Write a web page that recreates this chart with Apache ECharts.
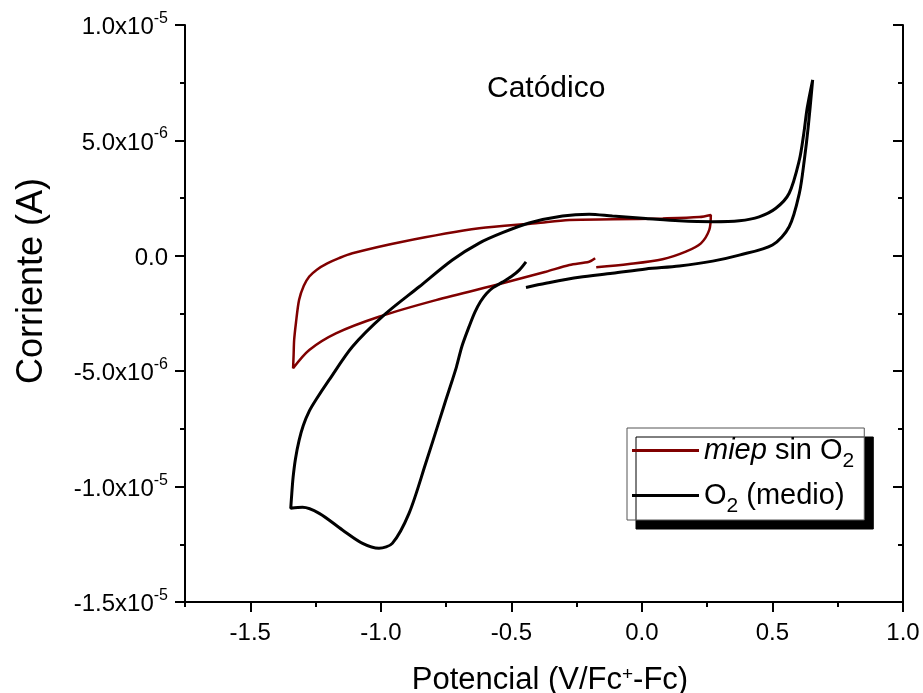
<!DOCTYPE html>
<html>
<head>
<meta charset="utf-8">
<script src="https://cdn.jsdelivr.net/npm/echarts@6/dist/echarts.min.js"></script>
<style>html,body{margin:0;padding:0;background:#fff;}#c{width:923px;height:693px;}</style>
</head>
<body>
<div id="c"></div>
<script>
// ---- data (potential in V vs Fc+/Fc, current in A) ----
const redPotential = [-0.175, -0.049, 0.079, 0.168, 0.226, 0.258, 0.264, 0.22, 0.08, -0.11, -0.278, -0.406, -0.623, -0.917, -1.109, -1.160, -1.205, -1.245, -1.274, -1.295, -1.313, -1.325, -1.332, -1.334, -1.336, -1.274, -1.172, -1.007, -0.789, -0.534, -0.368, -0.278, -0.202, -0.179];
const redCurrent = [-0.50e-6, -0.36e-6, -0.15e-6, 0.18e-6, 0.54e-6, 1.12e-6, 1.77e-6, 1.68e-6, 1.62e-6, 1.58e-6, 1.55e-6, 1.41e-6, 1.19e-6, 0.61e-6, 0.11e-6, -0.10e-6, -0.33e-6, -0.60e-6, -0.90e-6, -1.30e-6, -1.91e-6, -2.90e-6, -3.66e-6, -4.30e-6, -4.87e-6, -4.08e-6, -3.36e-6, -2.64e-6, -1.92e-6, -1.19e-6, -0.69e-6, -0.40e-6, -0.26e-6, -0.11e-6];

const blackPotential = [-0.444, -0.368, -0.240, -0.113, 0.015, 0.143, 0.271, 0.373, 0.500, 0.564, 0.603, 0.622, 0.637, 0.654, 0.633, 0.620, 0.603, 0.564, 0.513, 0.449, 0.373, 0.271, 0.143, 0.015, -0.113, -0.202, -0.304, -0.432, -0.534, -0.623, -0.726, -0.853, -0.987, -1.109, -1.198, -1.249, -1.275, -1.297, -1.313, -1.327, -1.336, -1.341, -1.345, -1.300, -1.236, -1.147, -1.070, -1.007, -0.956, -0.892, -0.828, -0.775, -0.751, -0.726, -0.710, -0.689, -0.662, -0.640, -0.618, -0.595, -0.570, -0.534, -0.500, -0.470, -0.444];
const blackCurrent = [-1.37e-6, -1.19e-6, -0.93e-6, -0.76e-6, -0.57e-6, -0.44e-6, -0.23e-6, 0.03e-6, 0.47e-6, 1.26e-6, 2.71e-6, 4.15e-6, 5.59e-6, 7.62e-6, 6.40e-6, 5.30e-6, 4.15e-6, 2.71e-6, 2.06e-6, 1.69e-6, 1.52e-6, 1.48e-6, 1.52e-6, 1.62e-6, 1.72e-6, 1.80e-6, 1.72e-6, 1.42e-6, 1.00e-6, 0.55e-6, -0.18e-6, -1.34e-6, -2.56e-6, -3.94e-6, -5.38e-6, -6.25e-6, -6.75e-6, -7.35e-6, -8.00e-6, -8.80e-6, -9.60e-6, -10.30e-6, -10.94e-6, -10.90e-6, -11.16e-6, -11.88e-6, -12.46e-6, -12.67e-6, -12.46e-6, -11.16e-6, -8.99e-6, -7.11e-6, -6.25e-6, -5.38e-6, -4.80e-6, -3.91e-6, -3.07e-6, -2.45e-6, -1.98e-6, -1.63e-6, -1.38e-6, -1.14e-6, -0.90e-6, -0.62e-6, -0.26e-6];

const seriesNames = ['miep sin O2', 'O2 (medio)'];
const legendLabels = ['{i|miep}{t| sin O}{s|2}', '{t|O}{s|2}{t| (medio)}'];

const xMajorTicks = [-1.5, -1.0, -0.5, 0.0, 0.5, 1.0];
const xMinorTicks = [-1.75, -1.25, -0.75, -0.25, 0.25, 0.75];
const yMin = -1.5e-5, yMax = 1.0e-5, yStep = 5e-6;

const xTitle = 'Potencial (V/Fc{sp|+}-Fc)';
const yTitle = 'Corriente (A)';
const annotation = 'Catódico';

// ---- chart ----
const FONT = "'Liberation Sans', Arial, sans-serif";
const zip = (a, b) => a.map((v, i) => [v, b[i]]);

function fmtY(v) {
  if (Math.abs(v) < 1e-12) return '{n|0.0}';
  const e = Math.floor(Math.log10(Math.abs(v)) + 1e-9);
  const m = v / Math.pow(10, e);
  return '{n|' + m.toFixed(1) + 'x10}{s|' + e + '}';
}

const chart = echarts.init(document.getElementById('c'), null, {renderer: 'canvas'});
const axisLineStyle = {color: '#000', width: 2};

chart.setOption({
  animation: false,
  backgroundColor: '#fff',
  textStyle: {fontFamily: FONT, color: '#000'},
  grid: {left: 185, right: 20, top: 25, bottom: 91, containLabel: false, outerBoundsMode: 'none'},
  title: {
    text: annotation, left: 482, top: 69,
    textStyle: {fontFamily: FONT, fontSize: 30, fontWeight: 'normal', color: '#000'}
  },
  xAxis: [{
    type: 'value', min: -1.75, max: 1.0, position: 'bottom',
    axisLine: {show: true, onZero: false, lineStyle: axisLineStyle},
    axisTick: {show: true, customValues: xMajorTicks, length: 10, lineStyle: axisLineStyle},
    axisLabel: {show: true, customValues: xMajorTicks, formatter: v => v.toFixed(1), fontSize: 24, fontFamily: FONT, color: '#000', margin: 19},
    splitLine: {show: false},
    name: xTitle, nameLocation: 'middle', nameGap: 63,
    nameTextStyle: {fontFamily: FONT, fontSize: 31, color: '#000', padding: [0, 0, 0, 12],
      rich: {sp: {fontSize: 19, fontFamily: FONT, verticalAlign: 'top', color: '#000'}}}
  }, {
    type: 'value', min: -1.75, max: 1.0, position: 'bottom',
    axisLine: {show: false, onZero: false},
    axisTick: {show: true, customValues: xMinorTicks, length: 5, lineStyle: axisLineStyle},
    axisLabel: {show: false},
    splitLine: {show: false}
  }],
  yAxis: [{
    type: 'value', min: yMin, max: yMax, interval: yStep, position: 'left',
    axisLine: {show: true, onZero: false, lineStyle: axisLineStyle},
    axisTick: {show: true, length: 10, lineStyle: axisLineStyle},
    minorTick: {show: true, splitNumber: 2, length: 5, lineStyle: axisLineStyle},
    axisLabel: {formatter: fmtY, margin: 17, color: '#000',
      rich: {
        n: {fontSize: 24, fontFamily: FONT, color: '#000', lineHeight: 29, verticalAlign: 'bottom'},
        s: {fontSize: 16, fontFamily: FONT, color: '#000', verticalAlign: 'top'}
      }},
    splitLine: {show: false}
  }, {
    type: 'value', min: yMin, max: yMax, interval: yStep, position: 'right',
    axisLine: {show: true, onZero: false, lineStyle: axisLineStyle},
    axisTick: {show: true, inside: true, length: 10, lineStyle: axisLineStyle},
    minorTick: {show: true, splitNumber: 2, length: 5, lineStyle: axisLineStyle},
    axisLabel: {show: false},
    splitLine: {show: false}
  }],
  legend: {
    data: seriesNames, orient: 'vertical', left: 627, top: 428,
    padding: [8, 10, 3, 5], itemGap: 9, itemWidth: 67, itemHeight: 3, icon: 'rect',
    backgroundColor: '#fff', borderColor: '#555', borderWidth: 1,
    shadowColor: '#000', shadowBlur: 0, shadowOffsetX: 9, shadowOffsetY: 9,
    formatter: name => legendLabels[seriesNames.indexOf(name)],
    textStyle: {
      fontFamily: FONT, fontSize: 29, color: '#000',
      rich: {
        i: {fontSize: 29, fontFamily: FONT, fontStyle: 'italic', color: '#000', verticalAlign: 'middle'},
        t: {fontSize: 29, fontFamily: FONT, color: '#000', verticalAlign: 'middle'},
        s: {fontSize: 21, fontFamily: FONT, color: '#000', verticalAlign: 'middle', padding: [22, 0, 0, 0]}
      }
    }
  },
  graphic: [{
    type: 'text', x: 32, y: 281, rotation: Math.PI / 2,
    style: {text: yTitle, fontSize: 36, fontFamily: FONT, fill: '#000', align: 'center', verticalAlign: 'middle'}
  }],
  series: [{
    name: seriesNames[0], type: 'line', xAxisIndex: 0, yAxisIndex: 0,
    data: zip(redPotential, redCurrent), showSymbol: false, symbol: 'none',
    smooth: 0.3, lineStyle: {color: '#800000', width: 2.5}, itemStyle: {color: '#800000'}
  }, {
    name: seriesNames[1], type: 'line', xAxisIndex: 0, yAxisIndex: 0,
    data: zip(blackPotential, blackCurrent), showSymbol: false, symbol: 'none',
    smooth: 0.3, lineStyle: {color: '#000', width: 3}, itemStyle: {color: '#000'}
  }]
});
</script>
</body>
</html>
